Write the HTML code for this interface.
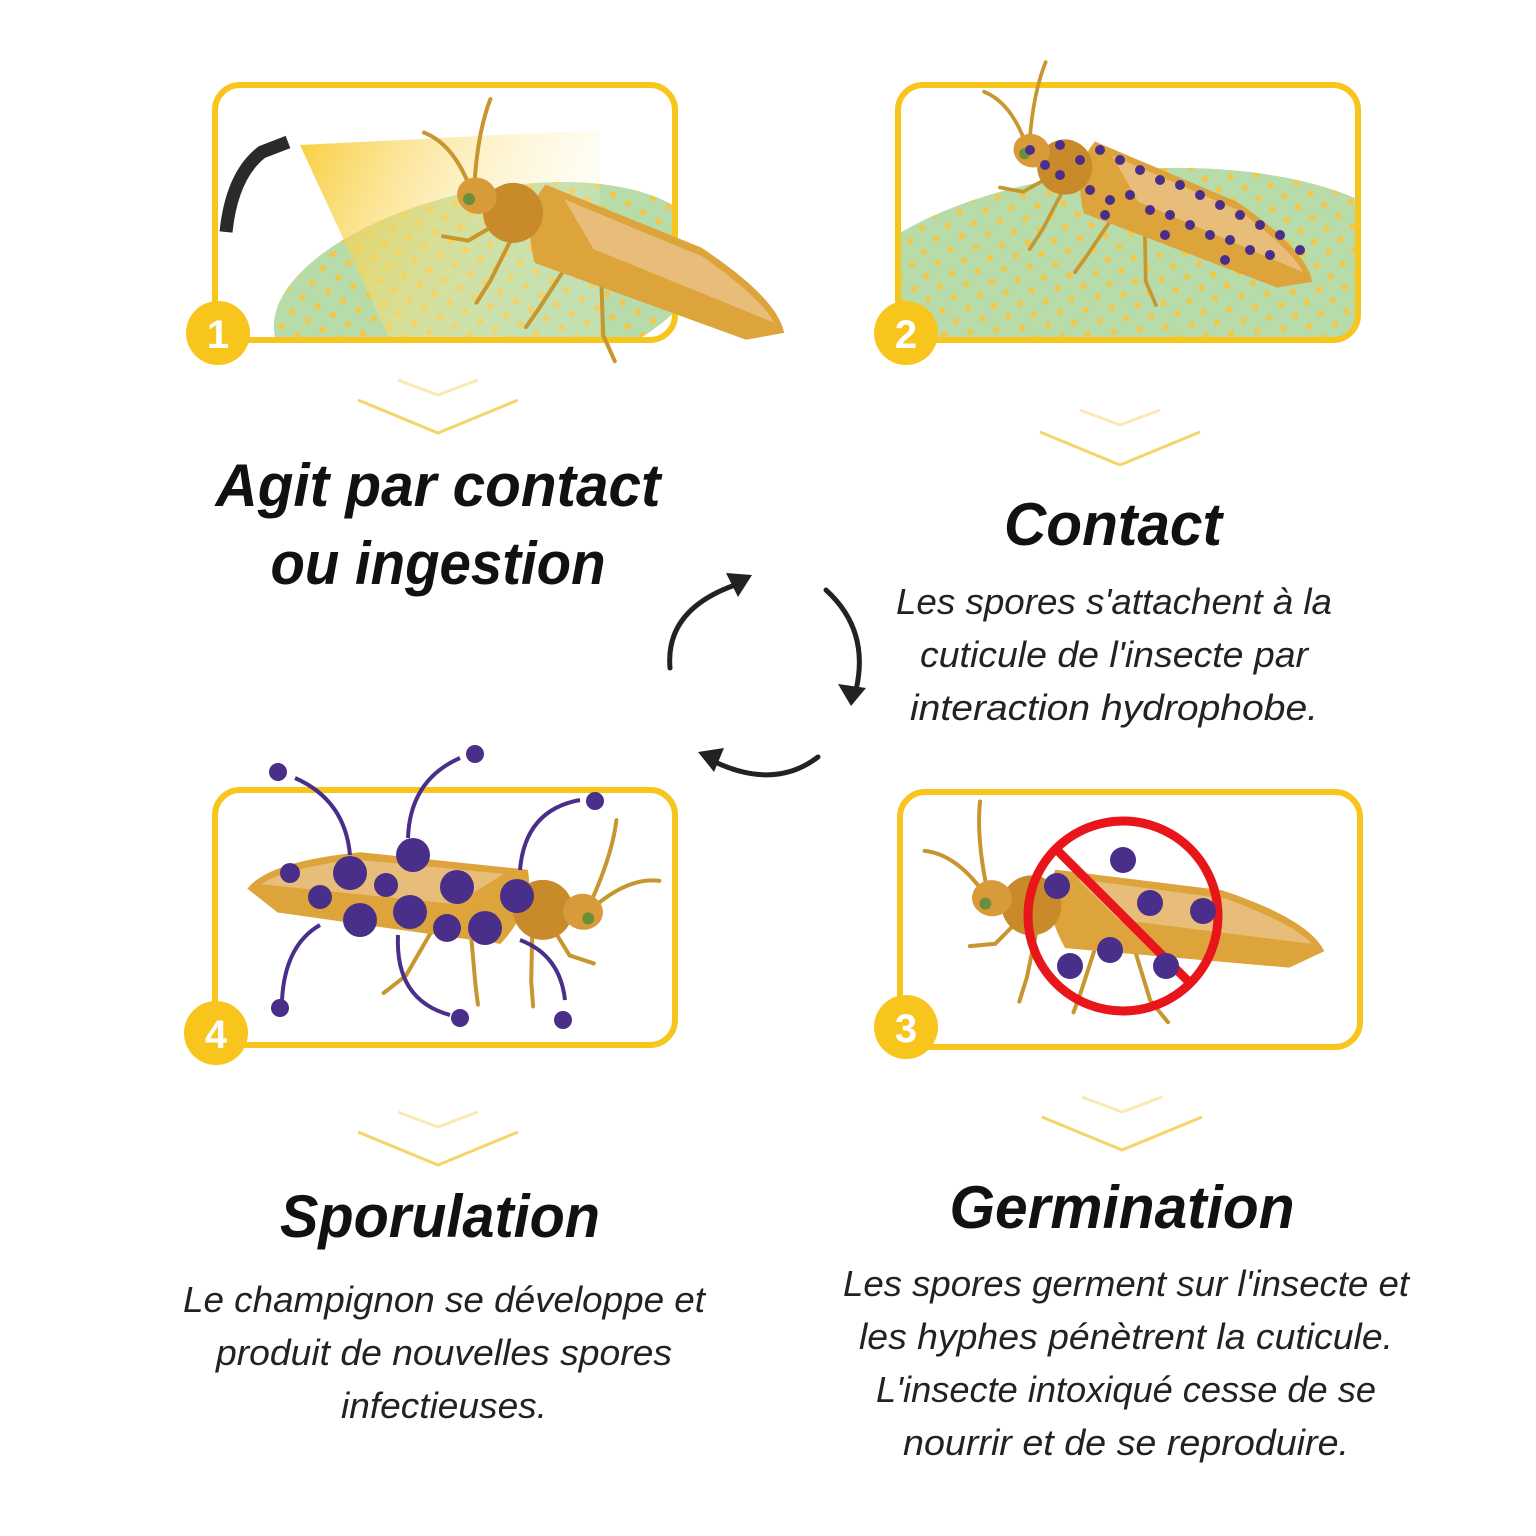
<!DOCTYPE html>
<html><head><meta charset="utf-8"><style>
html,body{margin:0;padding:0;background:#fff}
svg{display:block}
.t{font-family:"Liberation Sans",sans-serif;font-weight:bold;font-style:italic;fill:#111}
.b{font-family:"Liberation Sans",sans-serif;font-style:italic;fill:#222}
.n{font-family:"Liberation Sans",sans-serif;font-weight:bold;fill:#fff;font-size:40px}
</style></head><body>
<svg width="1536" height="1536" viewBox="0 0 1536 1536" xmlns="http://www.w3.org/2000/svg">
<defs>
<pattern id="dots" width="26" height="24" patternUnits="userSpaceOnUse">
<circle cx="6" cy="6" r="3.2" fill="#f3c74a"/><circle cx="19" cy="18" r="3.2" fill="#f3c74a"/>
</pattern>
<clipPath id="c1"><rect x="215" y="85" width="460" height="255" rx="25"/></clipPath>
<clipPath id="c2"><rect x="898" y="85" width="460" height="255" rx="25"/></clipPath>
<linearGradient id="beam" x1="0" y1="0" x2="1" y2="0.3"><stop offset="0" stop-color="#f7c51b"/><stop offset="1" stop-color="#fff6d0" stop-opacity="0.2"/></linearGradient>
<g id="bug">
<g stroke="#c8962e" stroke-width="4" fill="none" stroke-linecap="round">
<path d="M-5,-12 Q-20,-60 -20,-95"/><path d="M-10,-8 Q-40,-40 -70,-40"/>
<path d="M30,20 L10,45 L-15,50"/><path d="M50,25 L45,75 L40,100"/><path d="M110,38 L100,85 L95,105"/><path d="M150,38 L170,85 L190,105"/>
</g>
<path d="M62,-35 L230,-32 Q320,-12 338,18 L305,38 L80,42 Q50,0 62,-35Z" fill="#dea43c"/>
<path d="M85,-28 L235,-24 Q305,-6 325,12 L130,8Z" fill="#e8bd7a"/>
<ellipse cx="42" cy="3" rx="30" ry="30" fill="#c98a2a"/>
<ellipse cx="2" cy="0" rx="20" ry="18" fill="#d99a3a"/>
<circle cx="-4" cy="6" r="6" fill="#6b8e3a"/>
</g>
</defs>

<!-- Panel 1 -->
<g clip-path="url(#c1)">
<ellipse cx="490" cy="290" rx="220" ry="100" fill="#b7dca9" transform="rotate(-12 490 290)"/>
<ellipse cx="490" cy="290" rx="220" ry="100" fill="url(#dots)" transform="rotate(-12 490 290)"/>
<path d="M300,145 L600,130 L600,340 L390,340Z" fill="url(#beam)" opacity="0.85"/>
</g>
<path d="M226,232 Q232,175 262,152 L288,142" fill="none" stroke="#2a2a2a" stroke-width="13" stroke-linecap="butt"/>
<rect x="215" y="85" width="460" height="255" rx="25" fill="none" stroke="#f7c51b" stroke-width="6"/>
<use href="#bug" transform="translate(475,195) rotate(21)"/>
<circle cx="218" cy="333" r="32" fill="#f7c51b"/><text class="n" x="218" y="348" text-anchor="middle">1</text>

<!-- Panel 2 -->
<g clip-path="url(#c2)">
<ellipse cx="1130" cy="300" rx="300" ry="130" fill="#b7dca9" transform="rotate(-5 1130 300)"/>
<ellipse cx="1130" cy="300" rx="300" ry="130" fill="url(#dots)" transform="rotate(-5 1130 300)"/>
</g>
<rect x="898" y="85" width="460" height="255" rx="25" fill="none" stroke="#f7c51b" stroke-width="6"/>
<use href="#bug" transform="translate(1030,150) rotate(22) scale(0.92)"/>
<g fill="#4a2f8a">
<circle cx="1030" cy="150" r="5"/><circle cx="1060" cy="145" r="5"/><circle cx="1080" cy="160" r="5"/><circle cx="1100" cy="150" r="5"/><circle cx="1120" cy="160" r="5"/><circle cx="1140" cy="170" r="5"/><circle cx="1160" cy="180" r="5"/><circle cx="1180" cy="185" r="5"/><circle cx="1200" cy="195" r="5"/><circle cx="1220" cy="205" r="5"/><circle cx="1240" cy="215" r="5"/><circle cx="1260" cy="225" r="5"/><circle cx="1280" cy="235" r="5"/><circle cx="1300" cy="250" r="5"/><circle cx="1090" cy="190" r="5"/><circle cx="1110" cy="200" r="5"/><circle cx="1130" cy="195" r="5"/><circle cx="1150" cy="210" r="5"/><circle cx="1170" cy="215" r="5"/><circle cx="1190" cy="225" r="5"/><circle cx="1210" cy="235" r="5"/><circle cx="1230" cy="240" r="5"/><circle cx="1250" cy="250" r="5"/><circle cx="1270" cy="255" r="5"/><circle cx="1105" cy="215" r="5"/><circle cx="1165" cy="235" r="5"/><circle cx="1225" cy="260" r="5"/><circle cx="1060" cy="175" r="5"/><circle cx="1045" cy="165" r="5"/>
</g>
<circle cx="906" cy="333" r="32" fill="#f7c51b"/><text class="n" x="906" y="348" text-anchor="middle">2</text>

<!-- Panel 4 -->
<rect x="215" y="790" width="460" height="255" rx="25" fill="none" stroke="#f7c51b" stroke-width="6"/>
<use href="#bug" transform="translate(585,912) rotate(187) scale(1,-1)"/>
<g fill="none" stroke="#4a2f8a" stroke-width="4">
<path d="M350,855 Q345,800 295,778"/><path d="M408,838 Q410,780 460,758"/><path d="M520,870 Q525,810 580,800"/><path d="M320,925 Q285,945 282,1000"/><path d="M398,935 Q395,1000 450,1015"/><path d="M520,940 Q560,955 565,1000"/>
</g>
<g fill="#4a2f8a">
<circle cx="278" cy="772" r="9"/><circle cx="475" cy="754" r="9"/><circle cx="595" cy="801" r="9"/><circle cx="280" cy="1008" r="9"/><circle cx="460" cy="1018" r="9"/><circle cx="563" cy="1020" r="9"/>
<circle cx="350" cy="873" r="17"/><circle cx="413" cy="855" r="17"/><circle cx="457" cy="887" r="17"/><circle cx="517" cy="896" r="17"/><circle cx="320" cy="897" r="12"/><circle cx="386" cy="885" r="12"/><circle cx="360" cy="920" r="17"/><circle cx="410" cy="912" r="17"/><circle cx="447" cy="928" r="14"/><circle cx="485" cy="928" r="17"/><circle cx="290" cy="873" r="10"/>
</g>
<circle cx="216" cy="1033" r="32" fill="#f7c51b"/><text class="n" x="216" y="1048" text-anchor="middle">4</text>

<!-- Panel 3 -->
<rect x="900" y="792" width="460" height="255" rx="25" fill="none" stroke="#f7c51b" stroke-width="6"/>
<use href="#bug" transform="translate(990,898) rotate(6)"/>
<circle cx="1123" cy="916" r="95" fill="none" stroke="#e8151b" stroke-width="9"/>
<line x1="1055" y1="848" x2="1191" y2="984" stroke="#e8151b" stroke-width="9"/>
<g fill="#4a2f8a">
<circle cx="1123" cy="860" r="13"/><circle cx="1057" cy="886" r="13"/><circle cx="1150" cy="903" r="13"/><circle cx="1203" cy="911" r="13"/><circle cx="1110" cy="950" r="13"/><circle cx="1070" cy="966" r="13"/><circle cx="1166" cy="966" r="13"/>
</g>
<circle cx="906" cy="1027" r="32" fill="#f7c51b"/><text class="n" x="906" y="1042" text-anchor="middle">3</text>

<!-- chevrons -->
<g fill="none" stroke="#f7d46a" stroke-width="3">
<path d="M398,380 L438,395 L478,380" opacity="0.5"/><path d="M358,400 L438,433 L518,400"/>
<path d="M1080,410 L1120,425 L1160,410" opacity="0.5"/><path d="M1040,432 L1120,465 L1200,432"/>
<path d="M398,1112 L438,1127 L478,1112" opacity="0.5"/><path d="M358,1132 L438,1165 L518,1132"/>
<path d="M1082,1097 L1122,1112 L1162,1097" opacity="0.5"/><path d="M1042,1117 L1122,1150 L1202,1117"/>
</g>

<!-- cycle arrows -->
<g fill="none" stroke="#222" stroke-width="5" stroke-linecap="round">
<path d="M670,668 Q665,610 735,585"/>
<path d="M826,590 Q870,630 856,690"/>
<path d="M818,757 Q775,790 715,762"/>
</g>
<g fill="#222">
<path d="M752,575 L726,573 L738,597Z"/>
<path d="M851,706 L838,684 L866,688Z"/>
<path d="M698,752 L724,748 L714,772Z"/>
</g>

<!-- titles -->
<text class="t" x="438" y="506" font-size="60" text-anchor="middle" textLength="445" lengthAdjust="spacingAndGlyphs">Agit par contact</text>
<text class="t" x="438" y="584" font-size="60" text-anchor="middle" textLength="335" lengthAdjust="spacingAndGlyphs">ou ingestion</text>
<text class="t" x="1113" y="545" font-size="60" text-anchor="middle" textLength="218" lengthAdjust="spacingAndGlyphs">Contact</text>
<text class="t" x="440" y="1237" font-size="60" text-anchor="middle" textLength="320" lengthAdjust="spacingAndGlyphs">Sporulation</text>
<text class="t" x="1122" y="1228" font-size="60" text-anchor="middle" textLength="345" lengthAdjust="spacingAndGlyphs">Germination</text>

<g class="b" font-size="36" text-anchor="middle">
<text x="1114" y="614" textLength="436" lengthAdjust="spacingAndGlyphs">Les spores s'attachent à la</text>
<text x="1114" y="667" textLength="388" lengthAdjust="spacingAndGlyphs">cuticule de l'insecte par</text>
<text x="1114" y="720" textLength="408" lengthAdjust="spacingAndGlyphs">interaction hydrophobe.</text>
<text x="444" y="1312" textLength="522" lengthAdjust="spacingAndGlyphs">Le champignon se développe et</text>
<text x="444" y="1365" textLength="456" lengthAdjust="spacingAndGlyphs">produit de nouvelles spores</text>
<text x="444" y="1418" textLength="206" lengthAdjust="spacingAndGlyphs">infectieuses.</text>
<text x="1126" y="1296" textLength="566" lengthAdjust="spacingAndGlyphs">Les spores germent sur l'insecte et</text>
<text x="1126" y="1349" textLength="534" lengthAdjust="spacingAndGlyphs">les hyphes pénètrent la cuticule.</text>
<text x="1126" y="1402" textLength="500" lengthAdjust="spacingAndGlyphs">L'insecte intoxiqué cesse de se</text>
<text x="1126" y="1455" textLength="446" lengthAdjust="spacingAndGlyphs">nourrir et de se reproduire.</text>
</g>
</svg>
</body></html>
